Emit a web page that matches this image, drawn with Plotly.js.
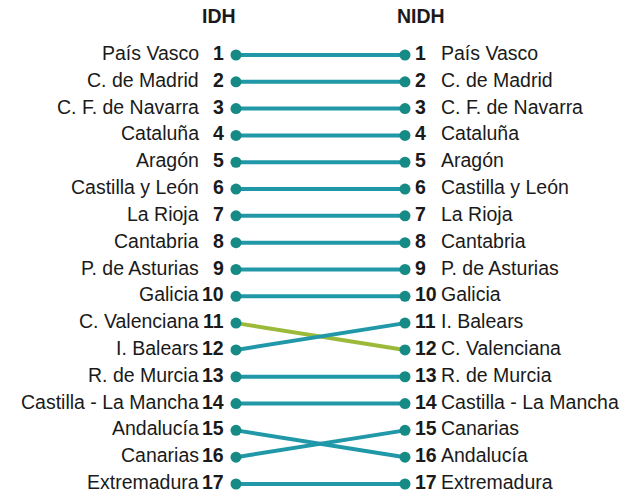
<!DOCTYPE html>
<html>
<head>
<meta charset="utf-8">
<script src="https://cdn.plot.ly/plotly-3.0.1.min.js"></script>
<style>html,body{margin:0;padding:0;background:#fff}</style>
</head>
<body>
<div id="chart" style="width:630px;height:490px"></div>
<script>
const regions = ["País Vasco","C. de Madrid","C. F. de Navarra","Cataluña","Aragón","Castilla y León","La Rioja","Cantabria","P. de Asturias","Galicia","C. Valenciana","I. Balears","R. de Murcia","Castilla - La Mancha","Andalucía","Canarias","Extremadura"];
const idhRank  = [1,2,3,4,5,6,7,8,9,10,11,12,13,14,15,16,17];
const nidhRank = [1,2,3,4,5,6,7,8,9,10,12,11,13,14,16,15,17];
const columns = ["IDH","NIDH"];
const highlight = "C. Valenciana";

const FONT = "Liberation Sans, Arial, sans-serif";
const teal = "#2198a8";
const green = "#9cba3a";
const dot = "#168a84";
const txt = "#1a1a1a";
const FS = 19.5;
const YS = 2;

const traces = [];
regions.forEach((r, i) => {
  traces.push({
    x: [0, 1], y: [idhRank[i], nidhRank[i]],
    mode: "lines", type: "scatter", hoverinfo: "skip",
    line: {color: r === highlight ? green : teal, width: 4},
    showlegend: false
  });
});
traces.push({
  x: regions.map(() => 0).concat(regions.map(() => 1)),
  y: idhRank.concat(nidhRank),
  mode: "markers", type: "scatter", hoverinfo: "skip",
  marker: {color: dot, size: 11},
  showlegend: false
});

const ann = [];
regions.forEach((r, i) => {
  ann.push({x: 0, y: idhRank[i], xref: "x", yref: "y", text: r, showarrow: false,
    xanchor: "right", yanchor: "middle", xshift: -37, yshift: YS, borderpad: 0, borderwidth: 0,
    font: {family: FONT, size: FS, color: txt}});
  ann.push({x: 0, y: idhRank[i], xref: "x", yref: "y", text: "<b>" + idhRank[i] + "</b>", showarrow: false,
    xanchor: "right", yanchor: "middle", xshift: -12, yshift: YS, borderpad: 0, borderwidth: 0,
    font: {family: FONT, size: FS, color: txt}});
  ann.push({x: 1, y: nidhRank[i], xref: "x", yref: "y", text: "<b>" + nidhRank[i] + "</b>", showarrow: false,
    xanchor: "left", yanchor: "middle", xshift: 10, yshift: YS, borderpad: 0, borderwidth: 0,
    font: {family: FONT, size: FS, color: txt}});
  ann.push({x: 1, y: nidhRank[i], xref: "x", yref: "y", text: r, showarrow: false,
    xanchor: "left", yanchor: "middle", xshift: 36, yshift: YS, borderpad: 0, borderwidth: 0,
    font: {family: FONT, size: FS, color: txt}});
});
columns.forEach((c, j) => {
  ann.push({x: j, y: -0.38, xref: "x", yref: "y", text: "<b>" + c + "</b>", showarrow: false,
    xanchor: "center", yanchor: "middle", xshift: j === 0 ? -17 : 16, yshift: YS, borderpad: 0, borderwidth: 0,
    font: {family: FONT, size: FS, color: txt}});
});

const layout = {
  width: 630, height: 490,
  margin: {l: 0, r: 0, t: 0, b: 0},
  paper_bgcolor: "#fff", plot_bgcolor: "#fff",
  xaxis: {range: [-1.3964, 2.3314], visible: false, fixedrange: true},
  yaxis: {range: [17.224, -1.0513], visible: false, fixedrange: true},
  annotations: ann,
  showlegend: false
};
Plotly.newPlot("chart", traces, layout, {displayModeBar: false, staticPlot: true});
</script>
</body>
</html>
